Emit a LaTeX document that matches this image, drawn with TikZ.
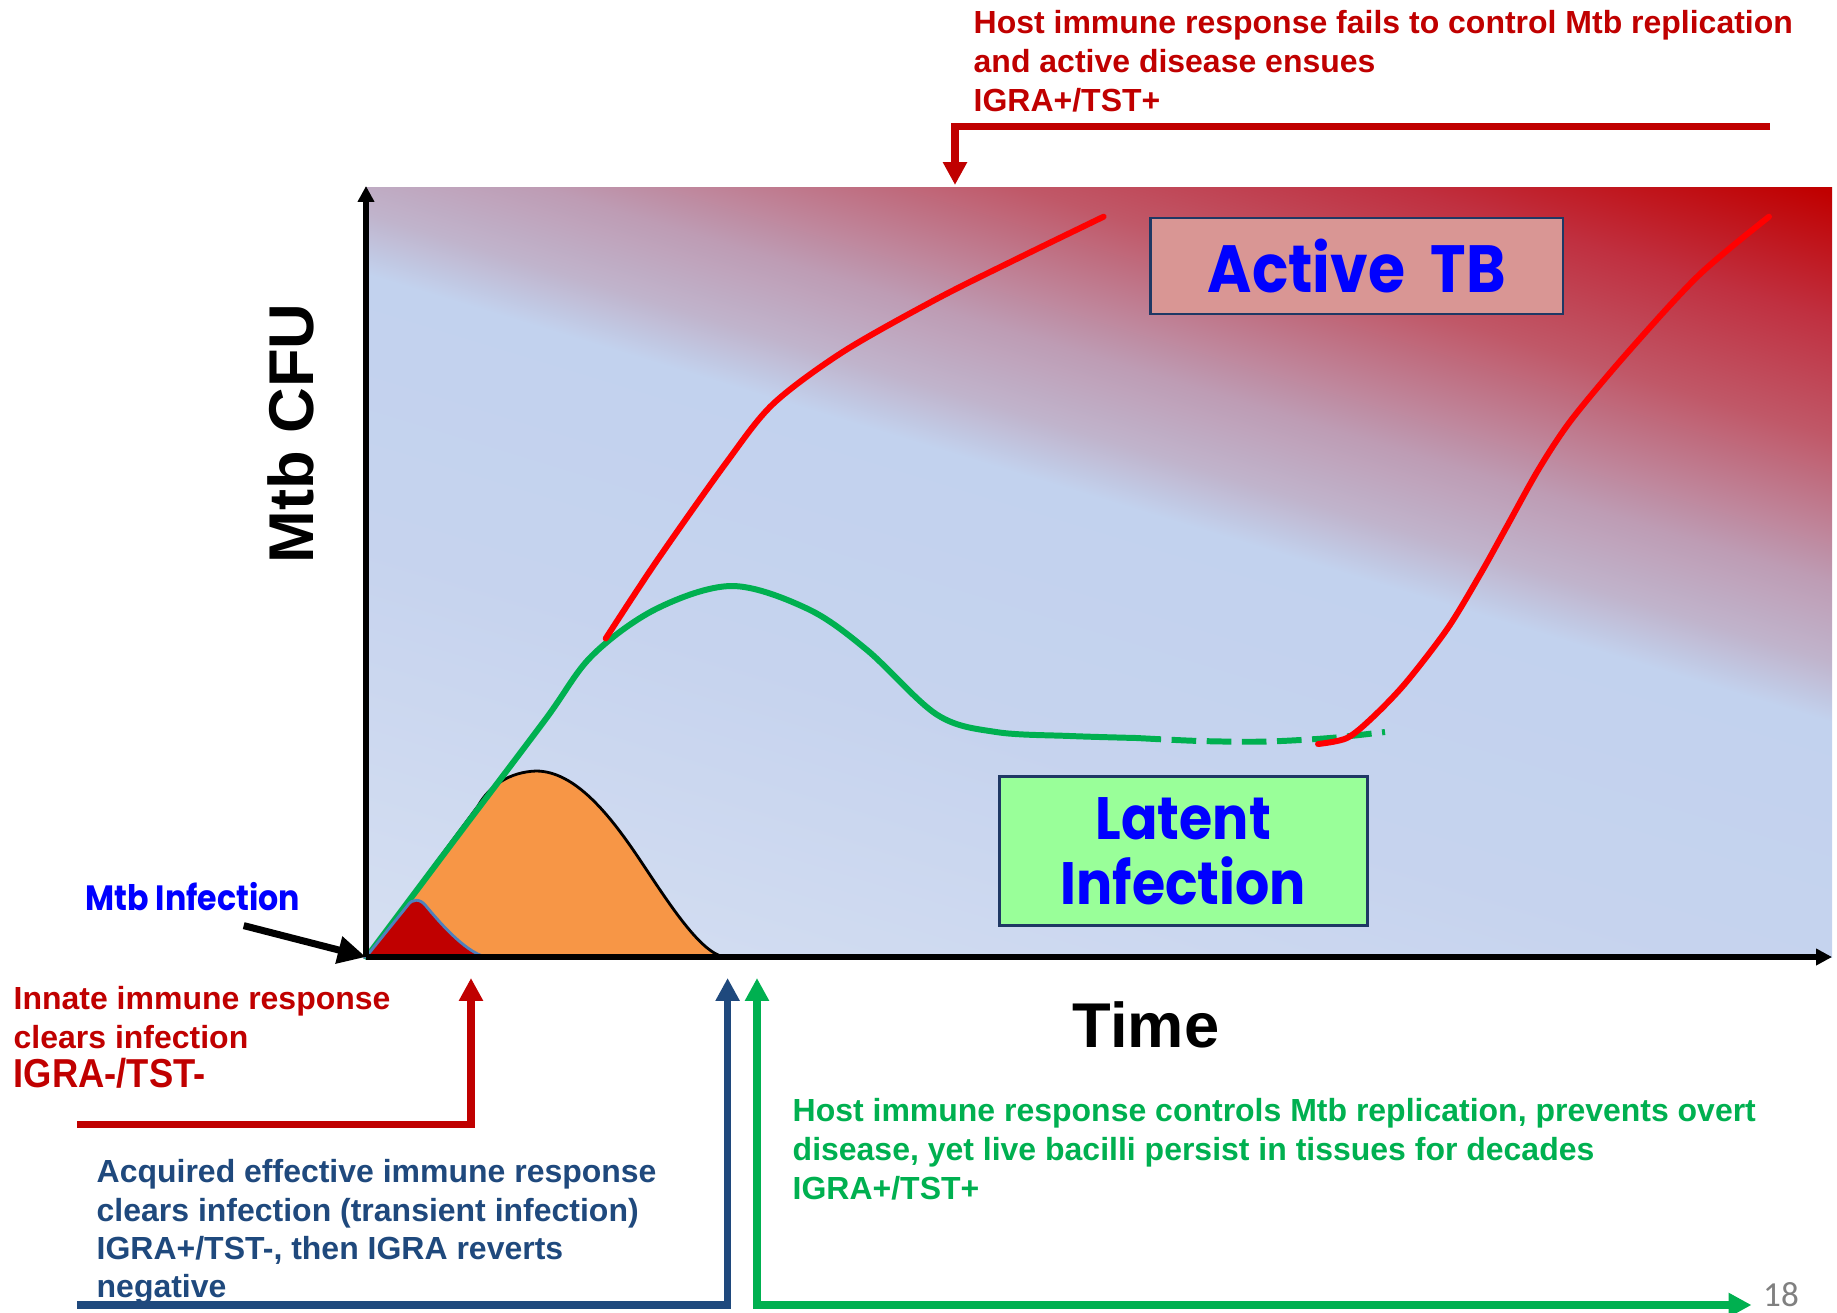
\documentclass[tikz,border=0pt]{standalone}
\usepackage{fontspec}
\setmainfont{Liberation Sans}
\newfontfamily\comicfont{Poppins}[FakeStretch=0.9]
\newfontfamily\pagefont{Carlito}
\usetikzlibrary{arrows.meta, positioning}

\definecolor{darkred}{HTML}{C00000}
\definecolor{navytext}{HTML}{1F497D}
\definecolor{latgreen}{HTML}{00B050}
\definecolor{curvered}{HTML}{FF0000}
\definecolor{tbpink}{HTML}{D99694}
\definecolor{latfill}{HTML}{99FF99}
\definecolor{boxline}{HTML}{1F3864}
\definecolor{humporange}{HTML}{F79646}
\definecolor{humpline}{HTML}{4F81BD}
\definecolor{shA}{HTML}{DAE3F3}
\definecolor{shB}{HTML}{C6D3EE}
\definecolor{shC}{HTML}{C2D2EE}
\definecolor{shD}{HTML}{C0B4CC}
\definecolor{shE}{HTML}{BE9CB4}
\definecolor{shF}{HTML}{C05868}
\definecolor{shG}{HTML}{C03040}
\definecolor{shH}{HTML}{C00000}
\pgfdeclareverticalshading{tbshade}{100bp}{color(0bp)=(shA); color(12.2bp)=(shA); color(40bp)=(shB); color(53.8bp)=(shC); color(56.9bp)=(shD); color(61bp)=(shE); color(68.5bp)=(shF); color(74.5bp)=(shG); color(81bp)=(shH); color(100bp)=(shH)}

\tikzset{
  note/.style={font=\bfseries\fontsize{9.1}{11}\selectfont, align=left, anchor=north west, inner sep=0pt},
  conn/.style={line width=2.1pt, -{Triangle[length=6.5pt,width=6.5pt]}},
  curve/.style={line width=1.7pt, line cap=round},
  stagebox/.style={draw=boxline, line width=0.8pt, text=blue, align=center, inner sep=0pt},
  axis/.style={line width=1.5pt, -{Triangle[length=4.5pt,width=4.5pt]}}
}

\begin{document}
\begin{tikzpicture}[x=0.1mm, y=-0.1mm]
  \useasboundingbox (0,0) rectangle (1837,1312);
  \coordinate (O) at (366,957);
  \coordinate (ytop) at (366,186);
  \coordinate (xend) at (1832,957);

  % background of the plot
  \shade[shading=tbshade, shading angle=-17] (366,187) rectangle (1832,957);

  % responses
  \draw[fill=humporange, line width=0.8pt] (O) -- (478,806) .. controls (490,785) and (510,772) .. (536,771)
    .. controls (575,771) and (610,815) .. (640,860) .. controls (670,905) and (700,952) .. (724,957) -- cycle;
  \draw[curve, latgreen] plot[smooth, tension=0.55] coordinates {(366.7,957) (456,838) (545,720) (591.7,656) (656,609) (732,586) (808,609) (867,650) (937,714.7) (996,732) (1070,736) (1136.5,738)};
  \draw[curve, latgreen, line cap=butt, dash pattern=on 7pt off 3pt] plot[smooth] coordinates {(1136.5,738) (1200,741) (1265,741.6) (1330,738) (1385,732)};
  \draw[fill=darkred, draw=humpline, line width=0.8pt] (O) -- (408,905) .. controls (412,899) and (420,898) .. (426,906)
    .. controls (436,918) and (464,952) .. (486,957) -- cycle;
  \draw[curve, curvered] plot[smooth] coordinates {(605.7,638.5) (656,562) (726,463) (773,404) (843.5,351.5) (937,298.8) (1019,257.8) (1103.6,216.7)};
  \draw[curve, curvered] plot[smooth] coordinates {(1318,744) (1347,738) (1373,717) (1406,682.5) (1448,627.8) (1481,573) (1506,528) (1539,468.6) (1572,419) (1628.5,351.5) (1699,275) (1769,216.7)};

  % axes
  \draw[axis] (O) -- (ytop);
  \draw[axis] (O) -- (xend);
  \node[rotate=90, font=\bfseries\fontsize{18}{18}\selectfont] (ylab) at (290.6,433.5) {Mtb CFU};
  \node[font=\bfseries\fontsize{18}{18}\selectfont] (xlab) at (1146,1025) {Time};

  % stages
  \node[stagebox, fill=tbpink, minimum width=41.25mm, minimum height=9.6mm, font=\comicfont\bfseries\fontsize{19}{19}\selectfont] (active) at (1356.75,266) {Active\ \ TB};
  \node[stagebox, fill=latfill, minimum width=36.8mm, minimum height=14.9mm, font=\comicfont\bfseries\fontsize{17}{18.4}\selectfont] (latent) at (1183.35,851.15) {Latent\\Infection};

  % infection
  \node[font=\comicfont\bfseries\fontsize{10}{10}\selectfont, text=blue] (infect) at (193,897) {Mtb Infection};
  \coordinate (infstart) at (243.7,925.6);
  \draw[line width=2pt, -{Triangle[length=8pt,width=7.5pt]}] (infstart) -- (O);

  % outcomes
  \node[note, text=darkred] (fails) at (973,10) {Host immune response fails to control Mtb replication\\and active disease ensues\\IGRA+/TST+};
  \coordinate (failstart) at (1770,126.5);
  \coordinate (failtip) at (955,185);
  \draw[conn, darkred] (failstart) -| (failtip);

  \node[note, text=darkred] (innate) at (13,986) {Innate immune response\\clears infection\\{\fontsize{11.5}{12}\selectfont\addfontfeature{FakeStretch=0.9}IGRA-/TST-}};
  \coordinate (innstart) at (77,1124.7);
  \coordinate (inntip) at (471,978);
  \draw[conn, darkred] (innstart) -| (inntip);

  \node[note, text=navytext, font=\bfseries\fontsize{9.1}{10.9}\selectfont] (acquired) at (96,1159) {Acquired effective immune response\\clears infection (transient infection)\\IGRA+/TST-, then IGRA reverts\\negative};
  \coordinate (acqstart) at (77,1305);
  \coordinate (acqtip) at (727.6,978);
  \draw[conn, navytext] (acqstart) -| (acqtip);

  \node[note, text=latgreen] (controls) at (792,1098) {Host immune response controls Mtb replication, prevents overt\\disease, yet live bacilli persist in tissues for decades\\IGRA+/TST+};
  \coordinate (ctltip) at (757,978);
  \coordinate (ctlend) at (1751.5,1305);
  \draw[conn, latgreen, {Triangle[length=6.5pt,width=6.5pt]}-{Triangle[length=6.5pt,width=6.5pt]}] (ctltip) |- (ctlend);

  \node[font=\pagefont\fontsize{10}{10}\selectfont, text=gray] (page) at (1781,1294.6) {18};
\end{tikzpicture}
\end{document}
